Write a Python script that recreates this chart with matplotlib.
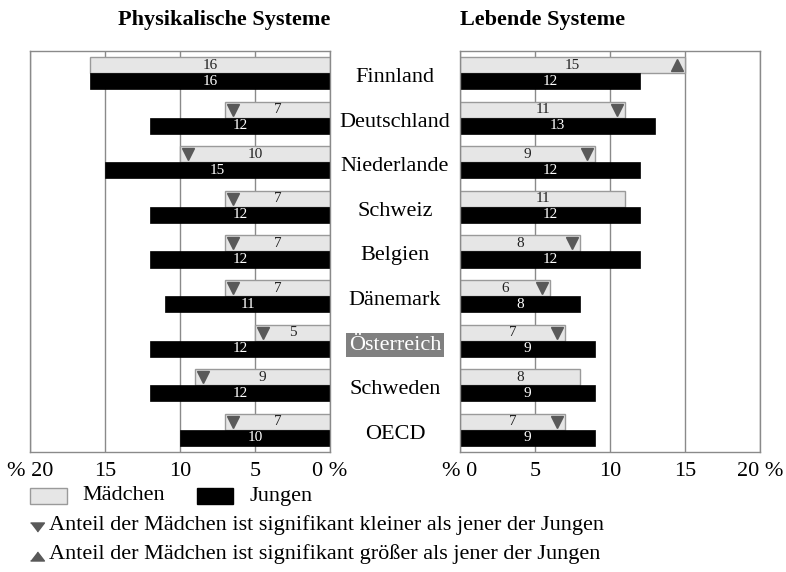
import matplotlib.pyplot as plt
import matplotlib.transforms as mtransforms
from matplotlib.patches import Rectangle
from matplotlib.lines import Line2D

plt.rcParams['font.family'] = ['Liberation Serif', 'DejaVu Sans']

# Daten
laender = ['Finnland', 'Deutschland', 'Niederlande', 'Schweiz', 'Belgien',
           'Dänemark', 'Österreich', 'Schweden', 'OECD']
phys_maedchen = [16, 7, 10, 7, 7, 7, 5, 9, 7]
phys_jungen = [16, 12, 15, 12, 12, 11, 12, 12, 10]
phys_sig = ['', 'v', 'v', 'v', 'v', 'v', 'v', 'v', 'v']
leb_maedchen = [15, 11, 9, 11, 8, 6, 7, 8, 7]
leb_jungen = [12, 13, 12, 12, 12, 8, 9, 9, 9]
leb_sig = ['^', 'v', 'v', '', 'v', 'v', 'v', '', 'v']

ticks = [0, 5, 10, 15, 20]
ticks_links = ['0 %', '5', '10', '15', '% 20']
ticks_rechts = ['% 0', '5', '10', '15', '20 %']

GRAU_HELL = '#e6e6e6'
GRAU_RAND = '#9a9a9a'
GRAU_LINIE = '#8a8a8a'
GRAU_MARKER = '#595959'
h = 0.36

# flache Dreiecke fuer die Legende
DREIECK_AB = [(-1, 0.65), (1, 0.65), (0, -0.65)]
DREIECK_AUF = [(-1, -0.65), (1, -0.65), (0, 0.65)]


def panel(ax, maedchen, jungen, sig, ticklabels, invertiert):
    y = list(range(len(laender)))
    ym = [i - h / 2 for i in y]
    yj = [i + h / 2 for i in y]
    ax.barh(ym, maedchen, height=h, color=GRAU_HELL, edgecolor=GRAU_RAND,
            linewidth=1, zorder=2)
    ax.barh(yj, jungen, height=h, color='black', edgecolor='black',
            linewidth=0.5, zorder=2)
    for i in y:
        ax.text(maedchen[i] / 2, ym[i], str(maedchen[i]), ha='center',
                va='center', fontsize=11, color='#222222', zorder=4)
        ax.text(jungen[i] / 2, yj[i], str(jungen[i]), ha='center',
                va='center', fontsize=11, color='white', zorder=4)
        if sig[i]:
            ax.plot(maedchen[i] - 0.55, ym[i], marker=sig[i], color=GRAU_MARKER,
                    markersize=9, linestyle='none', zorder=5)
    ax.set_xlim((20, 0) if invertiert else (0, 20))
    ax.set_ylim(8.5, -0.5)
    ax.set_xticks(ticks)
    ax.set_xticklabels(ticklabels)
    ax.set_yticks([])
    ax.tick_params(axis='x', length=0, pad=7, labelsize=16)
    ax.xaxis.grid(True, color=GRAU_LINIE, linewidth=1)
    ax.set_axisbelow(True)
    for s in ax.spines.values():
        s.set_color(GRAU_LINIE)
        s.set_linewidth(1)


fig = plt.figure(figsize=(7.86, 5.72), dpi=100)
ax1 = fig.add_axes([30 / 786, 1 - 452 / 572, 300 / 786, 401 / 572])
ax2 = fig.add_axes([460 / 786, 1 - 452 / 572, 300 / 786, 401 / 572])

panel(ax1, phys_maedchen, phys_jungen, phys_sig, ticks_links, True)
panel(ax2, leb_maedchen, leb_jungen, leb_sig, ticks_rechts, False)

# Titel
fig.text(330 / 786, 1 - 25 / 572, 'Physikalische Systeme', ha='right',
         va='baseline', fontsize=16, fontweight='bold')
fig.text(460 / 786, 1 - 25 / 572, 'Lebende Systeme', ha='left',
         va='baseline', fontsize=16, fontweight='bold')

# Laendernamen in der Mitte
trans = mtransforms.blended_transform_factory(fig.transFigure, ax1.transData)
for i, land in enumerate(laender):
    if land == 'Österreich':
        ax1.text(395 / 786, i + 0.1, land, transform=trans, ha='center',
                 va='center', fontsize=16, color='white', clip_on=False,
                 bbox=dict(boxstyle='square,pad=0.12', fc='#808080', ec='none'))
    else:
        ax1.text(395 / 786, i + 0.1, land, transform=trans, ha='center',
                 va='center', fontsize=16, clip_on=False)

# Legende
fig.add_artist(Rectangle((30 / 786, 1 - 504 / 572), 37 / 786, 16 / 572,
                         transform=fig.transFigure, fc=GRAU_HELL, ec=GRAU_RAND, lw=1))
fig.text(82 / 786, 1 - 496 / 572, 'Mädchen', ha='left', va='center', fontsize=16)
fig.add_artist(Rectangle((197 / 786, 1 - 504 / 572), 36 / 786, 16 / 572,
                         transform=fig.transFigure, fc='black', ec='black', lw=1))
fig.text(250 / 786, 1 - 496 / 572, 'Jungen', ha='left', va='center', fontsize=16)

fig.add_artist(Line2D([37 / 786], [1 - 527 / 572], marker=DREIECK_AB, color=GRAU_MARKER,
                      markersize=10, linestyle='none', transform=fig.transFigure))
fig.text(49 / 786, 1 - 525 / 572,
         'Anteil der Mädchen ist signifikant kleiner als jener der Jungen',
         ha='left', va='center', fontsize=16)
fig.add_artist(Line2D([37 / 786], [1 - 556 / 572], marker=DREIECK_AUF, color=GRAU_MARKER,
                      markersize=10, linestyle='none', transform=fig.transFigure))
fig.text(49 / 786, 1 - 554 / 572,
         'Anteil der Mädchen ist signifikant größer als jener der Jungen',
         ha='left', va='center', fontsize=16)

fig.savefig('out.png', dpi=100)
